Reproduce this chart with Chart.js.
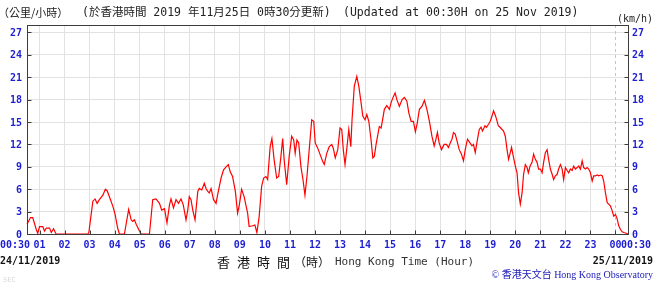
<!DOCTYPE html>
<html>
<head>
<meta charset="utf-8">
<script src="https://cdn.jsdelivr.net/npm/chart.js@4.4.0/dist/chart.umd.min.js"></script>
<style>
  html, body { margin: 0; padding: 0; background: #fff; }
</style>
</head>
<body>
<canvas id="windChart" width="656" height="284"></canvas>
<script>
// hours after midnight of 24/11/2019 (0.5 = 00:30, 24.5 = 00:30 next day)
var times = [
  0.5, 0.64, 0.73, 0.87, 0.93, 1.0, 1.13, 1.2, 1.27, 1.4, 1.47, 1.56, 1.66, 2.93, 2.97,
  3.13, 3.22, 3.3, 3.39, 3.53, 3.63, 3.7, 3.79, 3.93, 4.02, 4.12, 4.19, 4.39, 4.56, 4.66,
  4.72, 4.79, 4.86, 4.99, 5.06, 5.39, 5.52, 5.65, 5.79, 5.88, 5.99, 6.09, 6.19, 6.25, 6.35,
  6.45, 6.55, 6.65, 6.74, 6.85, 6.92, 6.98, 7.05, 7.12, 7.21, 7.32, 7.38, 7.48, 7.58, 7.65,
  7.72, 7.78, 7.85, 7.95, 8.05, 8.11, 8.25, 8.35, 8.45, 8.54, 8.62, 8.71, 8.82, 8.91, 8.98,
  9.07, 9.17, 9.31, 9.37, 9.51, 9.6, 9.68, 9.77, 9.87, 9.95, 10.04, 10.11, 10.21, 10.28, 10.37,
  10.47, 10.55, 10.64, 10.71, 10.77, 10.87, 10.97, 11.07, 11.15, 11.21, 11.28, 11.35, 11.44, 11.52, 11.6,
  11.68, 11.77, 11.87, 11.95, 12.01, 12.11, 12.21, 12.31, 12.37, 12.47, 12.57, 12.67, 12.73, 12.81, 12.91,
  13.0, 13.07, 13.13, 13.2, 13.28, 13.35, 13.43, 13.48, 13.57, 13.67, 13.75, 13.84, 13.91, 14.0, 14.07,
  14.15, 14.24, 14.31, 14.37, 14.44, 14.51, 14.57, 14.64, 14.71, 14.77, 14.87, 14.97, 15.04, 15.13, 15.2,
  15.27, 15.37, 15.48, 15.57, 15.67, 15.75, 15.84, 15.93, 16.01, 16.08, 16.17, 16.27, 16.37, 16.47, 16.57,
  16.67, 16.76, 16.83, 16.89, 16.96, 17.05, 17.16, 17.25, 17.33, 17.4, 17.47, 17.53, 17.6, 17.67, 17.76,
  17.85, 17.93, 18.0, 18.09, 18.19, 18.27, 18.33, 18.4, 18.49, 18.56, 18.63, 18.69, 18.79, 18.85, 18.93,
  19.0, 19.07, 19.13, 19.19, 19.25, 19.32, 19.39, 19.47, 19.53, 19.6, 19.67, 19.73, 19.8, 19.85, 19.92,
  20.0, 20.07, 20.13, 20.2, 20.27, 20.33, 20.4, 20.47, 20.52, 20.59, 20.67, 20.73, 20.8, 20.87, 20.93,
  21.0, 21.07, 21.13, 21.2, 21.27, 21.33, 21.4, 21.47, 21.53, 21.6, 21.67, 21.73, 21.8, 21.87, 21.93,
  22.0, 22.07, 22.13, 22.2, 22.27, 22.33, 22.4, 22.47, 22.53, 22.6, 22.67, 22.73, 22.8, 22.87, 22.93,
  23.0, 23.07, 23.13, 23.2, 23.27, 23.33, 23.4, 23.47, 23.53, 23.6, 23.67, 23.73, 23.8, 23.87, 23.93,
  24.0, 24.07, 24.13, 24.2, 24.27, 24.33, 24.43, 24.5
];

// wind speed, km/h
var speeds = [
  1.3, 2.2, 2.2, 0.6, 0.1, 1.0, 1.0, 0.4, 0.8, 0.8, 0.2, 0.7, 0, 0, 0.2,
  4.4, 4.7, 4.1, 4.6, 5.2, 6.0, 5.8, 5.0, 3.7, 2.6, 0.8, 0, 0, 3.3, 1.9,
  1.7, 1.9, 1.3, 0.4, 0, 0, 4.6, 4.7, 4.1, 3.2, 3.4, 1.5, 3.9, 4.7, 3.5,
  4.6, 4.1, 4.7, 3.9, 1.9, 3.2, 5.0, 4.6, 3.2, 1.9, 5.7, 6.1, 5.9, 6.8, 6.1,
  5.7, 5.5, 6.1, 4.6, 4.1, 5.2, 7.5, 8.6, 9.0, 9.3, 8.3, 7.7, 5.7, 2.8, 3.9,
  6.0, 5.0, 2.8, 1.0, 1.1, 1.2, 0.2, 2.3, 6.4, 7.5, 7.7, 7.3, 11.7, 12.8, 9.9,
  7.5, 7.7, 10.4, 12.8, 9.9, 6.6, 10.4, 13.1, 12.6, 10.8, 12.6, 12.2, 9.0, 7.3, 5.2,
  7.7, 11.3, 15.3, 15.1, 12.2, 11.5, 10.6, 9.7, 9.3, 10.8, 11.7, 12.0, 11.5, 10.2, 11.3,
  14.2, 14.0, 11.3, 9.3, 11.7, 14.0, 11.7, 15.3, 19.8, 21.1, 19.8, 17.6, 15.8, 15.3, 16.0,
  15.1, 12.6, 10.2, 10.4, 12.0, 13.3, 14.4, 14.2, 15.5, 16.7, 17.2, 16.7, 17.6, 18.4, 18.9,
  18.0, 17.1, 18.0, 18.3, 17.8, 16.2, 15.1, 15.1, 13.7, 14.8, 16.7, 17.1, 17.9, 16.7, 15.1,
  13.1, 11.8, 12.7, 13.6, 12.2, 11.3, 12.0, 12.0, 11.6, 12.2, 12.7, 13.6, 13.4, 12.5, 11.3,
  10.7, 9.8, 11.3, 12.7, 12.2, 11.8, 12.0, 10.9, 12.7, 14.0, 14.3, 13.8, 14.5, 14.3, 14.7,
  15.1, 15.8, 16.5, 16.0, 15.4, 14.5, 14.3, 14.0, 13.8, 13.1, 11.3, 10.0, 10.9, 11.6, 10.4,
  9.1, 8.2, 5.5, 4.0, 5.5, 8.0, 9.3, 8.9, 8.2, 9.1, 9.6, 10.7, 10.0, 9.6, 8.7,
  8.7, 8.2, 9.6, 10.9, 11.3, 10.0, 8.7, 8.0, 7.3, 7.8, 8.0, 8.7, 9.3, 8.7, 7.3,
  8.9, 8.5, 8.2, 8.7, 8.5, 9.1, 8.7, 8.9, 9.1, 8.7, 9.8, 8.9, 8.7, 8.9, 8.7,
  8.2, 7.1, 7.8, 7.8, 7.9, 7.8, 7.9, 7.8, 7.1, 5.5, 4.2, 4.0, 3.75, 3.1, 2.4,
  2.6, 2.0, 1.1, 0.6, 0.3, 0.2, 0.1, 0
];

var hourTicks = [1, 2, 3, 4, 5, 6, 7, 8, 9, 10, 11, 12, 13, 14, 15, 16, 17, 18, 19, 20, 21, 22, 23, 24];
var hourLabels = ["01", "02", "03", "04", "05", "06", "07", "08", "09", "10", "11", "12",
  "13", "14", "15", "16", "17", "18", "19", "20", "21", "22", "23", "00"];
var speedTicks = [0, 3, 6, 9, 12, 15, 18, 21, 24, 27];
var edgeLabel = "00:30";

var BLUE = "#1f1fd2";
var MONO = '"DejaVu Sans Mono", monospace';
var CJK = '"Noto Sans CJK TC", sans-serif';
var TICKFONT = "bold 10px " + MONO;

function txt(ctx, s, x, y, font, color, align) {
  ctx.font = font;
  ctx.fillStyle = color;
  ctx.textAlign = align || "left";
  ctx.textBaseline = "middle";
  ctx.fillText(s, x, y);
}

// frame, ticks and all the texts are drawn here
var hkoFrame = {
  id: "hkoFrame",
  beforeDraw(chart) {
    var c = chart.ctx;
    c.save();
    c.fillStyle = "#fff";
    c.fillRect(0, 0, chart.width, chart.height);
    c.restore();
  },
  beforeDatasetsDraw(chart) {
    // midnight is a dashed line
    var ctx = chart.ctx, a = chart.chartArea;
    var px = Math.round(chart.scales.x.getPixelForValue(24)) + 0.5;
    ctx.save();
    ctx.strokeStyle = "#c4c4c4";
    ctx.lineWidth = 1;
    ctx.setLineDash([3, 3]);
    ctx.beginPath();
    ctx.moveTo(px, a.top);
    ctx.lineTo(px, a.bottom);
    ctx.stroke();
    ctx.restore();
  },
  afterDraw(chart) {
    var ctx = chart.ctx, a = chart.chartArea;
    var x = chart.scales.x, y = chart.scales.y;
    ctx.save();
    var L = Math.round(a.left) + 0.5, R = Math.round(a.right) + 0.5;
    var T = Math.round(a.top) + 0.5, B = Math.round(a.bottom) + 0.5;
    ctx.strokeStyle = "#3c3c3c";
    ctx.lineWidth = 1;
    ctx.strokeRect(L, T, R - L, B - T);
    ctx.beginPath();
    speedTicks.forEach(function (v) {
      var py = Math.round(y.getPixelForValue(v)) + 0.5;
      ctx.moveTo(L, py); ctx.lineTo(L + 4, py);
      ctx.moveTo(R - 4, py); ctx.lineTo(R, py);
    });
    hourTicks.forEach(function (h) {
      var px = Math.round(x.getPixelForValue(h)) + 0.5;
      ctx.moveTo(px, B); ctx.lineTo(px, B - 4);
    });
    ctx.stroke();

    // axis labels
    speedTicks.forEach(function (v) {
      var py = y.getPixelForValue(v) + 1;
      txt(ctx, String(v), a.left - 5, py, TICKFONT, BLUE, "right");
      txt(ctx, String(v), a.right + 4, py, TICKFONT, BLUE, "left");
    });
    var ly = 245;
    hourTicks.forEach(function (h, i) {
      txt(ctx, hourLabels[i], x.getPixelForValue(h), ly, TICKFONT, BLUE, "center");
    });
    txt(ctx, edgeLabel, x.getPixelForValue(x.min) + 3, ly, TICKFONT, BLUE, "right");
    txt(ctx, edgeLabel, x.getPixelForValue(x.max) - 7, ly, TICKFONT, BLUE, "left");

    // dates
    txt(ctx, "24/11/2019", 0, 261, "bold 10px " + MONO, "#111", "left");
    txt(ctx, "25/11/2019", 653, 261, "bold 10px " + MONO, "#111", "right");

    // axis title
    var zh = ["香", "港", "時", "間"];
    zh.forEach(function (ch, i) {
      txt(ctx, ch, 217 + i * 20, 262, "13px " + CJK, "#111", "left");
    });
    txt(ctx, "（時）", 294, 262, "12px " + CJK, "#111", "left");
    txt(ctx, "Hong Kong Time (Hour)", 335, 262, "11px " + MONO, "#333", "left");

    // header
    txt(ctx, "（公里/小時）", -2, 13, "11px " + CJK, "#222", "left");
    txt(ctx, "(於香港時間 2019 年11月25日 0時30分更新)", 82, 13, "11.5px " + MONO + ", " + CJK, "#222", "left");
    txt(ctx, "(Updated at 00:30H on 25 Nov 2019)", 343, 13, "11.5px " + MONO, "#222", "left");
    txt(ctx, "(km/h)", 653, 19, "10px " + MONO, "#222", "right");

    // credits
    txt(ctx, "© 香港天文台 Hong Kong Observatory", 653, 275, '10px "Liberation Serif", ' + CJK, "#1a1ab8", "right");
    txt(ctx, "SEC", 3, 280, "7px " + MONO, "#d8d8d8", "left");
    ctx.restore();
  }
};

var points = times.map(function (t, i) { return { x: t, y: speeds[i] }; });

new Chart(document.getElementById("windChart"), {
  type: "line",
  data: {
    datasets: [{
      data: points,
      borderColor: "#ff0000",
      borderWidth: 1.2,
      pointRadius: 0,
      tension: 0,
      clip: 2
    }]
  },
  options: {
    responsive: false,
    animation: false,
    devicePixelRatio: 1,
    layout: { padding: { left: 27, right: 28, top: 25, bottom: 50 } },
    plugins: { legend: { display: false }, tooltip: { enabled: false } },
    scales: {
      x: {
        type: "linear",
        min: 0.5,
        max: 24.5,
        afterBuildTicks: function (s) { s.ticks = hourTicks.map(function (v) { return { value: v }; }); },
        ticks: { display: false },
        grid: {
          drawTicks: false,
          color: function (c) { return c.tick && c.tick.value === 24 ? "rgba(0,0,0,0)" : "#e2e2e2"; }
        },
        border: { display: false }
      },
      y: {
        min: 0,
        max: 28,
        afterBuildTicks: function (s) { s.ticks = speedTicks.map(function (v) { return { value: v }; }); },
        ticks: { display: false },
        grid: { drawTicks: false, color: "#e2e2e2" },
        border: { display: false }
      }
    }
  },
  plugins: [hkoFrame]
});
</script>
</body>
</html>
